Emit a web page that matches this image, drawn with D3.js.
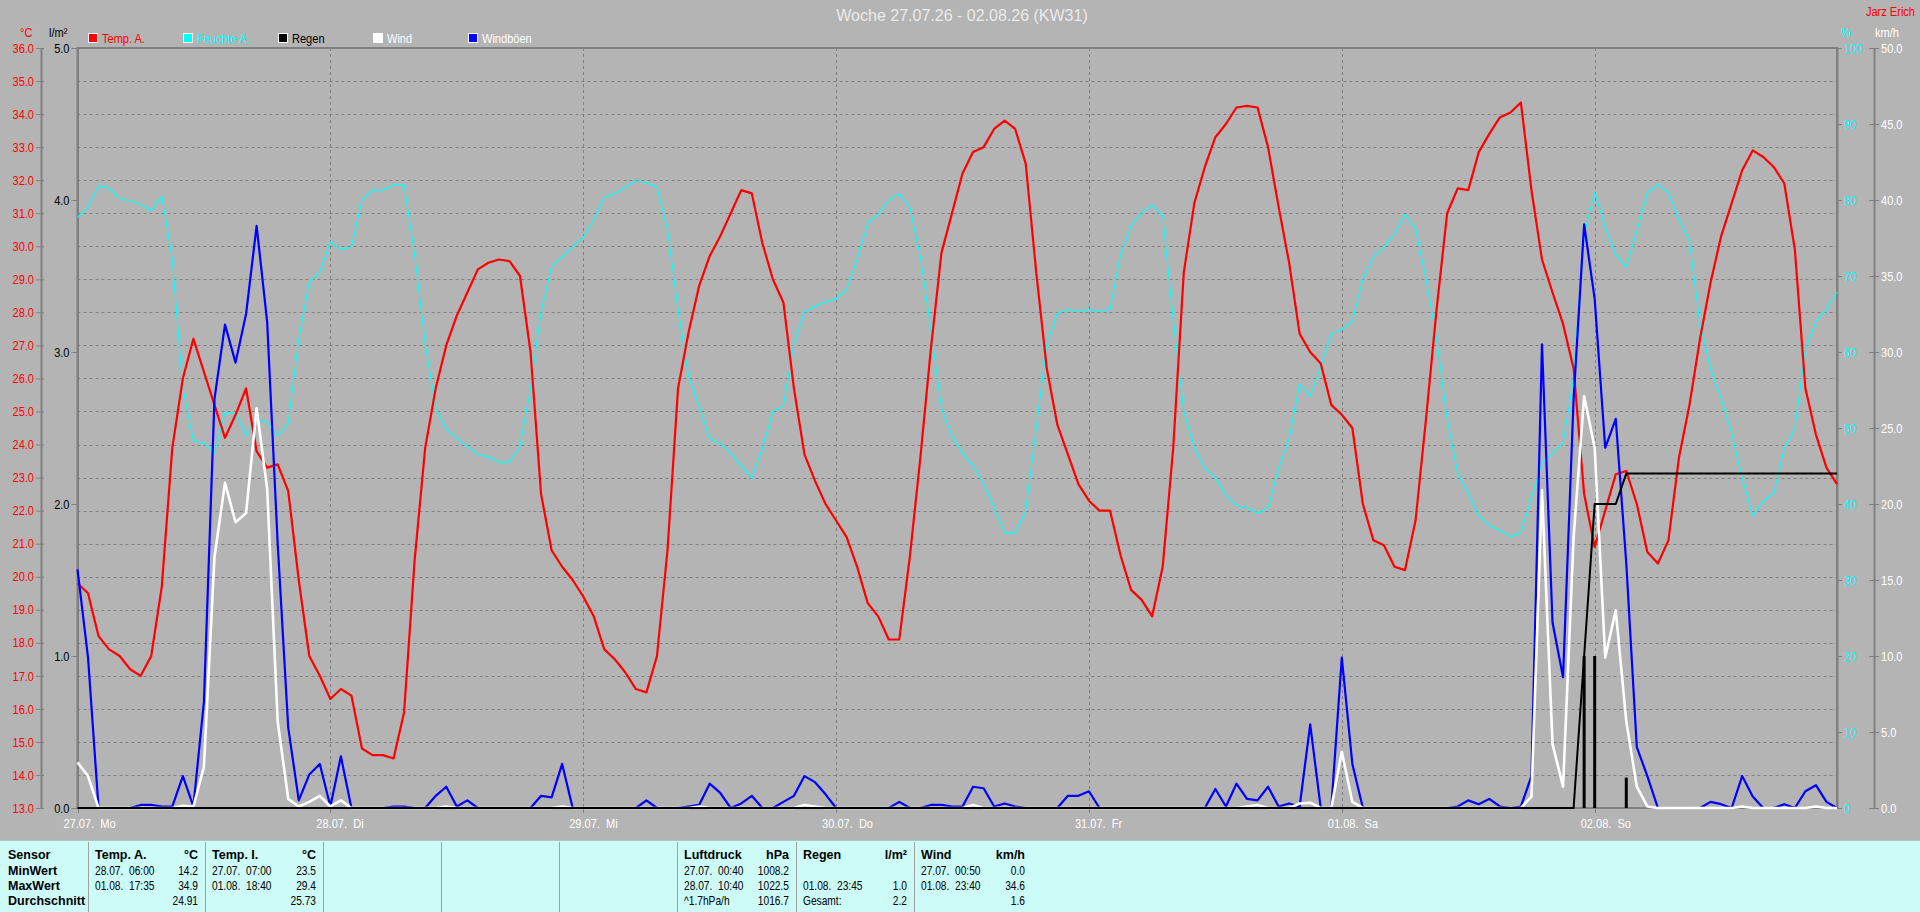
<!DOCTYPE html>
<html>
<head>
<meta charset="utf-8">
<script src="https://cdn.jsdelivr.net/npm/d3@7"></script>
<style>
  html, body { margin: 0; padding: 0; background: #b4b4b4; overflow: hidden; }
  svg { display: block; }
  text { font-family: "Liberation Sans", Arial, sans-serif; font-size: 13px; }
  .pre { white-space: pre; }
</style>
</head>
<body>
<script>
// hourly values, 27.07. 00:00 .. 02.08. 23:00
const tempA = [19.8, 19.5, 18.2, 17.8, 17.6, 17.2, 17.0, 17.6, 19.7, 23.9,
  26.0, 27.2, 26.2, 25.2, 24.2, 24.9, 25.7, 23.8, 23.3, 23.4,
  22.6, 19.9, 17.6, 17.0, 16.3, 16.6, 16.4, 14.8, 14.6, 14.6,
  14.5, 15.9, 20.5, 23.9, 25.7, 27.0, 27.9, 28.6, 29.3, 29.5,
  29.6, 29.55, 29.1, 26.8, 22.5, 20.8, 20.3, 19.9, 19.4, 18.8,
  17.8, 17.5, 17.1, 16.6, 16.5, 17.6, 20.8, 25.7, 27.4, 28.8,
  29.7, 30.3, 31.0, 31.7, 31.6, 30.1, 29.0, 28.3, 25.7, 23.7,
  22.9, 22.2, 21.7, 21.2, 20.3, 19.2, 18.8, 18.1, 18.1, 20.6,
  23.6, 26.9, 29.8, 31.0, 32.2, 32.85, 33.0, 33.55, 33.8, 33.55,
  32.5, 29.2, 26.3, 24.6, 23.7, 22.8, 22.3, 22.0, 22.0, 20.65,
  19.6, 19.3, 18.8, 20.3, 23.9, 29.2, 31.3, 32.4, 33.3, 33.7,
  34.2, 34.25, 34.2, 33.0, 31.2, 29.5, 27.35, 26.8, 26.45, 25.2,
  24.9, 24.5, 22.2, 21.1, 20.95, 20.3, 20.2, 21.7, 24.8, 28.1,
  31.0, 31.75, 31.7, 32.85, 33.4, 33.9, 34.05, 34.35, 31.7, 29.6,
  28.6, 27.65, 26.3, 22.5, 20.9, 22.0, 23.1, 23.2, 22.2, 20.75,
  20.4, 21.1, 23.6, 25.2, 27.2, 28.9, 30.3, 31.3, 32.3, 32.9,
  32.7, 32.4, 31.9, 29.9, 25.7, 24.3, 23.3, 22.8];

const feuchteA = [77.7, 79.1, 81.9, 81.5, 80.2, 79.9, 79.4, 78.6, 80.5, 72.2,
  55.2, 48.3, 48.0, 46.7, 52.0, 51.9, 49.0, 51.2, 50.7, 49.0,
  50.6, 61.7, 69.2, 70.5, 74.5, 73.5, 73.8, 80.0, 81.3, 81.3,
  82.0, 82.0, 72.8, 61.1, 52.6, 49.9, 48.6, 47.6, 46.5, 46.2,
  45.5, 45.5, 47.6, 55.2, 65.3, 71.2, 72.5, 73.8, 75.1, 77.4,
  80.4, 80.8, 81.7, 82.5, 82.3, 81.7, 76.1, 65.6, 56.8, 52.9,
  48.6, 48.0, 46.7, 45.0, 43.4, 47.3, 52.2, 52.9, 61.1, 65.3,
  66.0, 66.6, 67.0, 68.3, 72.2, 76.9, 78.1, 80.0, 80.8, 79.1,
  72.5, 63.0, 52.6, 48.9, 46.7, 45.0, 42.7, 39.5, 36.2, 36.2,
  39.1, 49.9, 61.1, 65.1, 65.6, 65.3, 65.6, 65.3, 65.6, 72.8,
  76.6, 78.4, 79.3, 77.9, 64.3, 52.2, 47.4, 44.7, 43.4, 41.1,
  39.8, 39.5, 38.8, 39.5, 44.7, 48.6, 55.8, 54.2, 58.1, 62.4,
  63.0, 64.0, 69.6, 72.5, 73.8, 75.5, 78.1, 76.2, 69.6, 61.7,
  51.2, 44.0, 41.4, 38.5, 37.2, 36.5, 35.7, 36.2, 40.8, 45.4,
  46.7, 48.0, 56.5, 75.5, 81.0, 76.4, 72.8, 71.2, 75.8, 81.0,
  82.0, 81.0, 77.4, 74.5, 63.7, 57.8, 53.9, 49.3, 43.4, 38.5,
  40.4, 41.4, 47.3, 49.9, 60.4, 64.0, 65.6, 67.9];

const windboeen = [15.7, 9.9, 0, 0, 0, 0, 0.2, 0.2, 0.1, 0.1,
  2.1, 0.1, 7.0, 26.9, 31.8, 29.3, 32.5, 38.3, 32.0, 17.4,
  5.3, 0.5, 2.2, 2.9, 0.1, 3.4, 0, 0, 0, 0,
  0.1, 0.1, 0, 0, 0.8, 1.4, 0.1, 0.5, 0, 0,
  0, 0, 0, 0, 0.8, 0.7, 2.9, 0, 0, 0,
  0, 0, 0, 0, 0.5, 0, 0, 0, 0.1, 0.2,
  1.6, 1.0, 0, 0.3, 0.8, 0, 0, 0.4, 0.8, 2.1,
  1.7, 0.9, 0, 0, 0, 0, 0, 0, 0.4, 0,
  0, 0.2, 0.2, 0.1, 0.1, 1.4, 1.3, 0.1, 0.3, 0.1,
  0, 0, 0, 0, 0.8, 0.8, 1.1, 0, 0, 0,
  0, 0, 0, 0, 0, 0, 0, 0, 1.25, 0.1,
  1.6, 0.6, 0.5, 1.4, 0.1, 0.3, 0.1, 5.5, 0, 0,
  9.9, 2.9, 0, 0, 0, 0, 0, 0, 0, 0,
  0, 0.1, 0.5, 0.25, 0.6, 0.1, 0, 0.1, 2.1, 30.5,
  12.2, 8.6, 26.9, 38.4, 33.5, 23.7, 25.6, 16.1, 4.0, 2.1,
  0, 0, 0, 0, 0, 0.4, 0.25, 0, 2.1, 0.75,
  0, 0, 0.25, 0, 1.1, 1.5, 0.4, 0];

const wind = [3.0, 2.1, 0, 0, 0, 0, 0, 0, 0, 0,
  0.15, 0.1, 2.7, 16.5, 21.4, 18.8, 19.4, 26.3, 21.0, 5.7,
  0.6, 0.1, 0.4, 0.8, 0.1, 0.5, 0, 0, 0, 0,
  0, 0, 0, 0, 0, 0.1, 0, 0, 0, 0,
  0, 0, 0, 0, 0, 0, 0.1, 0, 0, 0,
  0, 0, 0, 0, 0, 0, 0, 0, 0, 0.1,
  0, 0, 0, 0, 0, 0, 0, 0, 0, 0.2,
  0.1, 0, 0, 0, 0, 0, 0, 0, 0, 0,
  0, 0, 0, 0, 0, 0.2, 0, 0, 0, 0,
  0, 0, 0, 0, 0, 0, 0, 0, 0, 0,
  0, 0, 0, 0, 0, 0, 0, 0, 0, 0,
  0, 0.1, 0.2, 0, 0, 0, 0.3, 0.35, 0, 0,
  3.7, 0.4, 0, 0, 0, 0, 0, 0, 0, 0,
  0, 0, 0, 0, 0, 0, 0, 0, 0.75, 20.9,
  4.2, 1.4, 17.8, 27.1, 23.7, 9.9, 13.0, 5.7, 1.4, 0.1,
  0, 0, 0, 0, 0, 0, 0, 0, 0.1, 0,
  0, 0, 0, 0, 0, 0.1, 0, 0];

const regenSumme = [0, 0, 0, 0, 0, 0, 0, 0, 0, 0,
  0, 0, 0, 0, 0, 0, 0, 0, 0, 0,
  0, 0, 0, 0, 0, 0, 0, 0, 0, 0,
  0, 0, 0, 0, 0, 0, 0, 0, 0, 0,
  0, 0, 0, 0, 0, 0, 0, 0, 0, 0,
  0, 0, 0, 0, 0, 0, 0, 0, 0, 0,
  0, 0, 0, 0, 0, 0, 0, 0, 0, 0,
  0, 0, 0, 0, 0, 0, 0, 0, 0, 0,
  0, 0, 0, 0, 0, 0, 0, 0, 0, 0,
  0, 0, 0, 0, 0, 0, 0, 0, 0, 0,
  0, 0, 0, 0, 0, 0, 0, 0, 0, 0,
  0, 0, 0, 0, 0, 0, 0, 0, 0, 0,
  0, 0, 0, 0, 0, 0, 0, 0, 0, 0,
  0, 0, 0, 0, 0, 0, 0, 0, 0, 0,
  0, 0, 0, 1.0, 2.0, 2.0, 2.0, 2.2, 2.2, 2.2,
  2.2, 2.2, 2.2, 2.2, 2.2, 2.2, 2.2, 2.2, 2.2, 2.2,
  2.2, 2.2, 2.2, 2.2, 2.2, 2.2, 2.2, 2.2];

// hourly rain bars (hour index, l/m²)
const regenStunde = [[143, 1.0], [144, 1.0], [147, 0.2]];

const dayLabels = ["27.07.  Mo", "28.07.  Di", "29.07.  Mi", "30.07.  Do", "31.07.  Fr", "01.08.  Sa", "02.08.  So"];
const tempTicks = d3.range(13, 37);
const regenTicks = [0, 1, 2, 3, 4, 5];
const feuchteTicks = d3.range(0, 101, 10);
const windTicks = d3.range(0, 51, 5);

const legendNames = ["Temp. A.", "Feuchte A.", "Regen", "Wind", "Windböen"];
const legendColors = ["#ff0000", "#00ffff", "#000000", "#ffffff", "#0000ff"];
const legendTextColors = ["#ff0000", "#00ffff", "#000000", "#ffffff", "#ffffff"];

// statistics table
const rowLabels = ["Sensor", "MinWert", "MaxWert", "Durchschnitt"];
const colEdges = [88, 205, 323, 441, 559, 677, 796, 914, 1032];
const colHeads = ["Temp. A.", "Temp. I.", "", "", "", "Luftdruck", "Regen", "Wind"];
const colUnits = ["°C", "°C", "", "", "", "hPa", "l/m²", "km/h"];
const colMinTime = ["28.07.  06:00", "27.07.  07:00", "", "", "", "27.07.  00:40", "", "27.07.  00:50"];
const colMinVal = ["14.2", "23.5", "", "", "", "1008.2", "", "0.0"];
const colMaxTime = ["01.08.  17:35", "01.08.  18:40", "", "", "", "28.07.  10:40", "01.08.  23:45", "01.08.  23:40"];
const colMaxVal = ["34.9", "29.4", "", "", "", "1022.5", "1.0", "34.6"];
const colAvgText = ["", "", "", "", "", "^1.7hPa/h", "Gesamt:", ""];
const colAvgVal = ["24.91", "25.73", "", "", "", "1016.7", "2.2", "1.6"];

const W = 1920, H = 912;
const pLeft = 77.5, pRight = 1837, pTop = 48, pBottom = 808;
const grid = "#808080";
const squeezeK = 0.85;

// narrow look: compress text horizontally around its own x
function squeeze(sel) {
  sel.each(function () {
    const t = d3.select(this);
    const tx = +t.attr("x") || 0, ty = +t.attr("y") || 0;
    t.attr("x", null).attr("y", null)
      .attr("transform", `translate(${tx},${ty}) scale(${squeezeK},1)`);
  });
}

const svg = d3.select("body").append("svg")
  .attr("width", W).attr("height", H);

svg.append("rect").attr("width", W).attr("height", H).attr("fill", "#b4b4b4");

const x = d3.scaleLinear().domain([0, 167]).range([pLeft, pRight]);
const yT = d3.scaleLinear().domain([13, 36]).range([pBottom, pTop]);
const yR = d3.scaleLinear().domain([0, 5]).range([pBottom, pTop]);
const yH = d3.scaleLinear().domain([0, 100]).range([pBottom, pTop]);
const yW = d3.scaleLinear().domain([0, 50]).range([pBottom, pTop]);

// title + author
svg.append("text")
  .attr("x", 962).attr("y", 21)
  .attr("text-anchor", "middle")
  .style("font-size", "16px")
  .attr("fill", "#ebebeb")
  .text("Woche 27.07.26 - 02.08.26 (KW31)");

svg.append("text")
  .attr("x", 1915).attr("y", 16)
  .attr("text-anchor", "end")
  .attr("fill", "#ff0000")
  .text("Jarz Erich")
  .call(squeeze);

// unit labels
const units = svg.append("g");
units.append("text").attr("x", 20).attr("y", 37).attr("fill", "#ff0000").text("°C");
units.append("text").attr("x", 49).attr("y", 37).attr("fill", "#000").text("l/m²");
units.append("text").attr("x", 1841).attr("y", 37).attr("fill", "#00ffff").text("%");
units.append("text").attr("x", 1875).attr("y", 37).attr("fill", "#fff").text("km/h");
units.selectAll("text").call(squeeze);

// legend
const legend = svg.append("g");
legendNames.forEach((name, i) => {
  legend.append("rect")
    .attr("x", 88.5 + i * 95).attr("y", 33.5)
    .attr("width", 9).attr("height", 9)
    .attr("fill", legendColors[i])
    .attr("stroke", "#fff");
  legend.append("text")
    .attr("x", 102 + i * 95).attr("y", 43)
    .attr("fill", legendTextColors[i])
    .text(name)
    .call(squeeze);
});

// grid
svg.append("g").selectAll("line")
  .data(tempTicks.slice(1, -1))
  .join("line")
  .attr("x1", pLeft).attr("x2", pRight)
  .attr("y1", d => Math.round(yT(d)) + 0.5).attr("y2", d => Math.round(yT(d)) + 0.5)
  .attr("stroke", grid).attr("stroke-dasharray", "3,3");

svg.append("g").selectAll("line")
  .data(d3.range(1, 7))
  .join("line")
  .attr("x1", d => Math.round(x(d * 24)) + 0.5).attr("x2", d => Math.round(x(d * 24)) + 0.5)
  .attr("y1", pTop).attr("y2", pBottom)
  .attr("stroke", grid).attr("stroke-dasharray", "3,3");

// day ticks + labels
svg.append("g").selectAll("line")
  .data(d3.range(0, 7))
  .join("line")
  .attr("x1", d => Math.round(x(d * 24)) + 0.5).attr("x2", d => Math.round(x(d * 24)) + 0.5)
  .attr("y1", pBottom).attr("y2", pBottom + 5)
  .attr("stroke", grid);

svg.append("g").selectAll("text")
  .data(dayLabels)
  .join("text")
  .attr("class", "pre")
  .attr("x", (d, i) => x(i * 24) - 14)
  .attr("y", 828)
  .attr("fill", "#fff")
  .text(d => d)
  .call(squeeze);

// plot frame
svg.append("rect")
  .attr("x", pLeft).attr("y", pTop)
  .attr("width", pRight - pLeft).attr("height", pBottom - pTop)
  .attr("fill", "none").attr("stroke", grid).attr("stroke-width", 2);

// axes
function styleAxis(g, color) {
  g.attr("font-family", null).attr("font-size", null);
  g.select(".domain").attr("stroke", grid).attr("stroke-width", 2);
  g.selectAll(".tick line").attr("stroke", grid);
  g.selectAll(".tick text").attr("fill", color).call(squeeze);
}

const axT = svg.append("g")
  .attr("transform", "translate(41,0)")
  .call(d3.axisLeft(yT).tickValues(tempTicks).tickFormat(d3.format(".1f"))
    .tickSize(5).tickSizeOuter(0).tickPadding(2))
  .call(styleAxis, "#ff0000");
axT.selectAll(".tick line").attr("x1", 3);

svg.append("g")
  .attr("transform", `translate(${pLeft},0)`)
  .call(d3.axisLeft(yR).tickValues(regenTicks).tickFormat(d3.format(".1f"))
    .tickSize(6).tickSizeOuter(0).tickPadding(2))
  .call(styleAxis, "#000");

svg.append("g")
  .attr("transform", `translate(${pRight},0)`)
  .call(d3.axisRight(yH).tickValues(feuchteTicks).tickFormat(d3.format("d"))
    .tickSize(5).tickSizeOuter(0).tickPadding(2))
  .call(styleAxis, "#00ffff");

const axW = svg.append("g")
  .attr("transform", "translate(1874,0)")
  .call(d3.axisRight(yW).tickValues(windTicks).tickFormat(d3.format(".1f"))
    .tickSize(5).tickSizeOuter(0).tickPadding(2))
  .call(styleAxis, "#fff");
axW.selectAll(".tick line").attr("x1", -5);

// series
const plot = svg.append("g");

plot.append("g").selectAll("line")
  .data(regenStunde)
  .join("line")
  .attr("x1", d => x(d[0])).attr("x2", d => x(d[0]))
  .attr("y1", yR(0)).attr("y2", d => yR(d[1]))
  .attr("stroke", "#000").attr("stroke-width", 3);

function drawLine(values, scale, color, width) {
  plot.append("path")
    .datum(values)
    .attr("fill", "none")
    .attr("stroke", color)
    .attr("stroke-width", width)
    .attr("stroke-linejoin", "round")
    .attr("d", d3.line().x((d, i) => x(i)).y(d => scale(d)));
}

drawLine(feuchteA, yH, "#00ffff", 1.2);
drawLine(tempA, yT, "#ff0000", 2.2);
drawLine(windboeen, yW, "#0000ff", 2.2);
drawLine(wind, yW, "#ffffff", 2.6);
drawLine(regenSumme, yR, "#000000", 2);

// statistics table
const table = svg.append("g");
table.append("rect")
  .attr("x", 0).attr("y", 840).attr("width", W).attr("height", H - 840)
  .attr("fill", "#ccfbf8");
table.append("line")
  .attr("x1", 0).attr("x2", W).attr("y1", 840.5).attr("y2", 840.5)
  .attr("stroke", "#a9c9c7");

table.selectAll("line.div")
  .data(colEdges.slice(0, -1))
  .join("line")
  .attr("class", "div")
  .attr("x1", d => d + 0.5).attr("x2", d => d + 0.5)
  .attr("y1", 842).attr("y2", H)
  .attr("stroke", "#a0a0a0");

const rowY = [859, 875, 890, 905];

rowLabels.forEach((lab, r) => {
  table.append("text")
    .attr("x", 8).attr("y", rowY[r])
    .style("font-weight", "bold").style("font-size", "12.5px")
    .attr("fill", "#000").text(lab);
});

colHeads.forEach((head, c) => {
  const x0 = colEdges[c] + 7, x1 = colEdges[c + 1] - 7;
  const cells = [
    [head, colUnits[c], true],
    [colMinTime[c], colMinVal[c], false],
    [colMaxTime[c], colMaxVal[c], false],
    [colAvgText[c], colAvgVal[c], false]
  ];
  cells.forEach((cell, r) => {
    const t1 = table.append("text").attr("class", "pre")
      .attr("x", x0).attr("y", rowY[r]).attr("fill", "#000").text(cell[0]);
    const t2 = table.append("text").attr("class", "pre")
      .attr("x", x1).attr("y", rowY[r]).attr("text-anchor", "end").attr("fill", "#000").text(cell[1]);
    [t1, t2].forEach(t => {
      if (cell[2]) t.style("font-weight", "bold").style("font-size", "12.5px");
      else t.style("font-size", "12px").call(squeeze);
    });
  });
});
</script>
</body>
</html>
